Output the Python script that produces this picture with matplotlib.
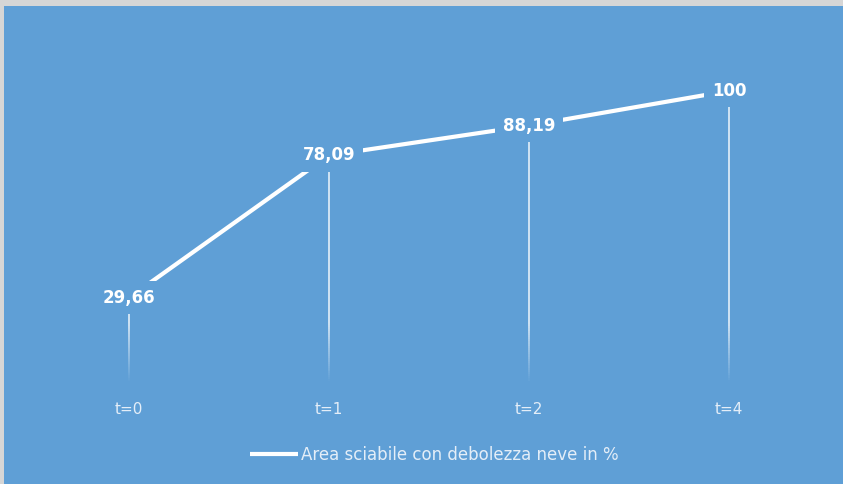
import numpy as np
import matplotlib.pyplot as plt
from matplotlib.collections import LineCollection
from matplotlib.patches import Rectangle

# data
categories = ['t=0', 't=1', 't=2', 't=4']
values = [29.66, 78.09, 88.19, 100]
labels = ['29,66', '78,09', '88,19', '100']
series_name = 'Area sciabile con debolezza neve in %'

bg = '#5F9FD6'
txt = '#E4EEF8'

plt.rcParams['font.family'] = ['DejaVu Sans']

fig = plt.figure(figsize=(8.43, 4.84), dpi=100)
fig.patch.set_facecolor('#D6D6D6')
# blue chart area (gray frame on left and top)
fig.patches.append(Rectangle((4 / 843, 0), 1, 1 - 6 / 484, transform=fig.transFigure,
                             facecolor=bg, edgecolor='none', zorder=-5))

ax = fig.add_axes([29 / 843, (484 - 385) / 484, 800 / 843, (385 - 60) / 484])
ax.set_facecolor('none')
x = np.arange(len(categories))
ax.set_xlim(-0.5, len(categories) - 0.5)
ax.set_ylim(0, 110.5)

# drop lines, fading towards the axis
for xi, v in zip(x, values):
    ys = np.linspace(0, v, 120)
    segs = [[(xi, ys[i]), (xi, ys[i + 1])] for i in range(len(ys) - 1)]
    mid = (ys[:-1] + ys[1:]) / 2
    alpha = np.clip((mid - 1) / 20, 0, 1) * 0.9
    cols = [(1, 1, 1, a) for a in alpha]
    ax.add_collection(LineCollection(segs, colors=cols, linewidths=1.1, zorder=1))

ax.plot(x, values, color='white', lw=3.0, solid_capstyle='butt', zorder=2,
        label=series_name)

for xi, v, lab in zip(x, values, labels):
    ax.text(xi, v, lab, ha='center', va='center', color='white', fontsize=12,
            fontweight='bold', zorder=3,
            bbox=dict(boxstyle='square,pad=0.45', facecolor=bg, edgecolor='none'))

ax.set_xticks(x)
ax.set_xticklabels(categories, color=txt, fontsize=11)
ax.tick_params(axis='x', length=0, pad=12)
ax.set_yticks([])
for s in ax.spines.values():
    s.set_visible(False)

leg = fig.legend(loc='center', bbox_to_anchor=(434 / 843, 1 - 455 / 484), frameon=False,
                 fontsize=12, handlelength=2.9, handletextpad=0.15)
for t in leg.get_texts():
    t.set_color(txt)

fig.savefig('out.png', dpi=100, facecolor=fig.get_facecolor())
